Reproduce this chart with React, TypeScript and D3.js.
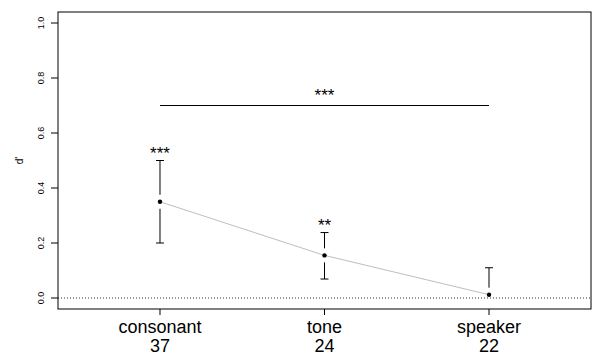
import { useEffect, useRef } from 'react';
import * as d3 from 'd3';

const CATEGORIES = ['consonant', 'tone', 'speaker'];
const COUNTS = ['37', '24', '22'];
const MEANS = [0.35, 0.155, 0.012];
const UPPER = [0.5, 0.238, 0.11];
const LOWER = [0.2, 0.069, null];
const STARS = ['***', '**', ''];
const Y_TICKS = [0, 0.2, 0.4, 0.6, 0.8, 1.0];
const BRACKET = { from: 0, to: 2, y: 0.7, label: '***' };

const W = 592;
const H = 355;

export default function App() {
  const svgRef = useRef<SVGSVGElement | null>(null);

  useEffect(() => {
    if (!svgRef.current) return;
    const svg = d3.select(svgRef.current);
    svg.selectAll('*').remove();

    const left = 58, right = 591, top = 12, bottom = 309;
    const x = d3.scaleLinear().domain([0.38, 3.62]).range([left, right]);
    const y = d3.scaleLinear().domain([-0.04, 1.04]).range([bottom, top]);
    const font = 'Liberation Sans, Arial, sans-serif';

    // dotted zero line
    svg.append('line')
      .attr('x1', left).attr('x2', right)
      .attr('y1', y(0)).attr('y2', y(0))
      .attr('stroke', '#000').attr('stroke-width', 0.8)
      .attr('stroke-dasharray', '1,2');

    // connecting line
    const line = d3.line<number>().x((_, i) => x(i + 1)).y((d) => y(d));
    svg.append('path')
      .attr('d', line(MEANS))
      .attr('fill', 'none')
      .attr('stroke', '#bebebe')
      .attr('stroke-width', 1);

    // error bars
    const gap = 7, cap = 4;
    MEANS.forEach((m, i) => {
      const cx = x(i + 1);
      const up = UPPER[i];
      if (up !== null) {
        svg.append('line').attr('x1', cx).attr('x2', cx)
          .attr('y1', y(m) - gap).attr('y2', y(up)).attr('stroke', '#000');
        svg.append('line').attr('x1', cx - cap).attr('x2', cx + cap)
          .attr('y1', y(up)).attr('y2', y(up)).attr('stroke', '#000');
      }
      const lo = LOWER[i];
      if (lo !== null) {
        svg.append('line').attr('x1', cx).attr('x2', cx)
          .attr('y1', y(m) + gap).attr('y2', y(lo)).attr('stroke', '#000');
        svg.append('line').attr('x1', cx - cap).attr('x2', cx + cap)
          .attr('y1', y(lo)).attr('y2', y(lo)).attr('stroke', '#000');
      }
      svg.append('circle').attr('cx', cx).attr('cy', y(m)).attr('r', 2.2).attr('fill', '#000');
      if (STARS[i]) {
        svg.append('text')
          .attr('x', cx).attr('y', y(up ?? m) - 1.5)
          .attr('text-anchor', 'middle')
          .attr('font-family', font).attr('font-size', 17)
          .text(STARS[i]);
      }
    });

    // bracket
    svg.append('line')
      .attr('x1', x(BRACKET.from + 1)).attr('x2', x(BRACKET.to + 1))
      .attr('y1', y(BRACKET.y)).attr('y2', y(BRACKET.y))
      .attr('stroke', '#000').attr('stroke-width', 1.2);
    svg.append('text')
      .attr('x', (x(BRACKET.from + 1) + x(BRACKET.to + 1)) / 2)
      .attr('y', y(BRACKET.y) - 4.5)
      .attr('text-anchor', 'middle')
      .attr('font-family', font).attr('font-size', 17)
      .text(BRACKET.label);

    // box
    svg.append('rect')
      .attr('x', left).attr('y', top)
      .attr('width', right - left).attr('height', bottom - top)
      .attr('fill', 'none').attr('stroke', '#000').attr('stroke-width', 1);

    // y axis
    Y_TICKS.forEach((t) => {
      svg.append('line').attr('x1', left - 7).attr('x2', left)
        .attr('y1', y(t)).attr('y2', y(t)).attr('stroke', '#000');
      svg.append('text')
        .attr('transform', `translate(${left - 14},${y(t)}) rotate(-90)`)
        .attr('text-anchor', 'middle')
        .attr('font-family', font).attr('font-size', 9)
        .text(d3.format('.1f')(t));
    });
    svg.append('text')
      .attr('transform', `translate(23,${y(0.5)}) rotate(-90)`)
      .attr('text-anchor', 'middle')
      .attr('font-family', font).attr('font-size', 10)
      .text("d'");

    // x axis
    CATEGORIES.forEach((c, i) => {
      const cx = x(i + 1);
      svg.append('line').attr('x1', cx).attr('x2', cx)
        .attr('y1', bottom).attr('y2', bottom + 6).attr('stroke', '#000');
      svg.append('text')
        .attr('x', cx).attr('y', 333)
        .attr('text-anchor', 'middle')
        .attr('font-family', font).attr('font-size', 18)
        .text(c);
      svg.append('text')
        .attr('x', cx).attr('y', 352)
        .attr('text-anchor', 'middle')
        .attr('font-family', font).attr('font-size', 18)
        .text(COUNTS[i]);
    });
  }, []);

  return (
    <svg
      ref={svgRef}
      width={W}
      height={H}
      style={{ position: 'absolute', left: 0, top: 0, background: '#fff' }}
    />
  );
}
